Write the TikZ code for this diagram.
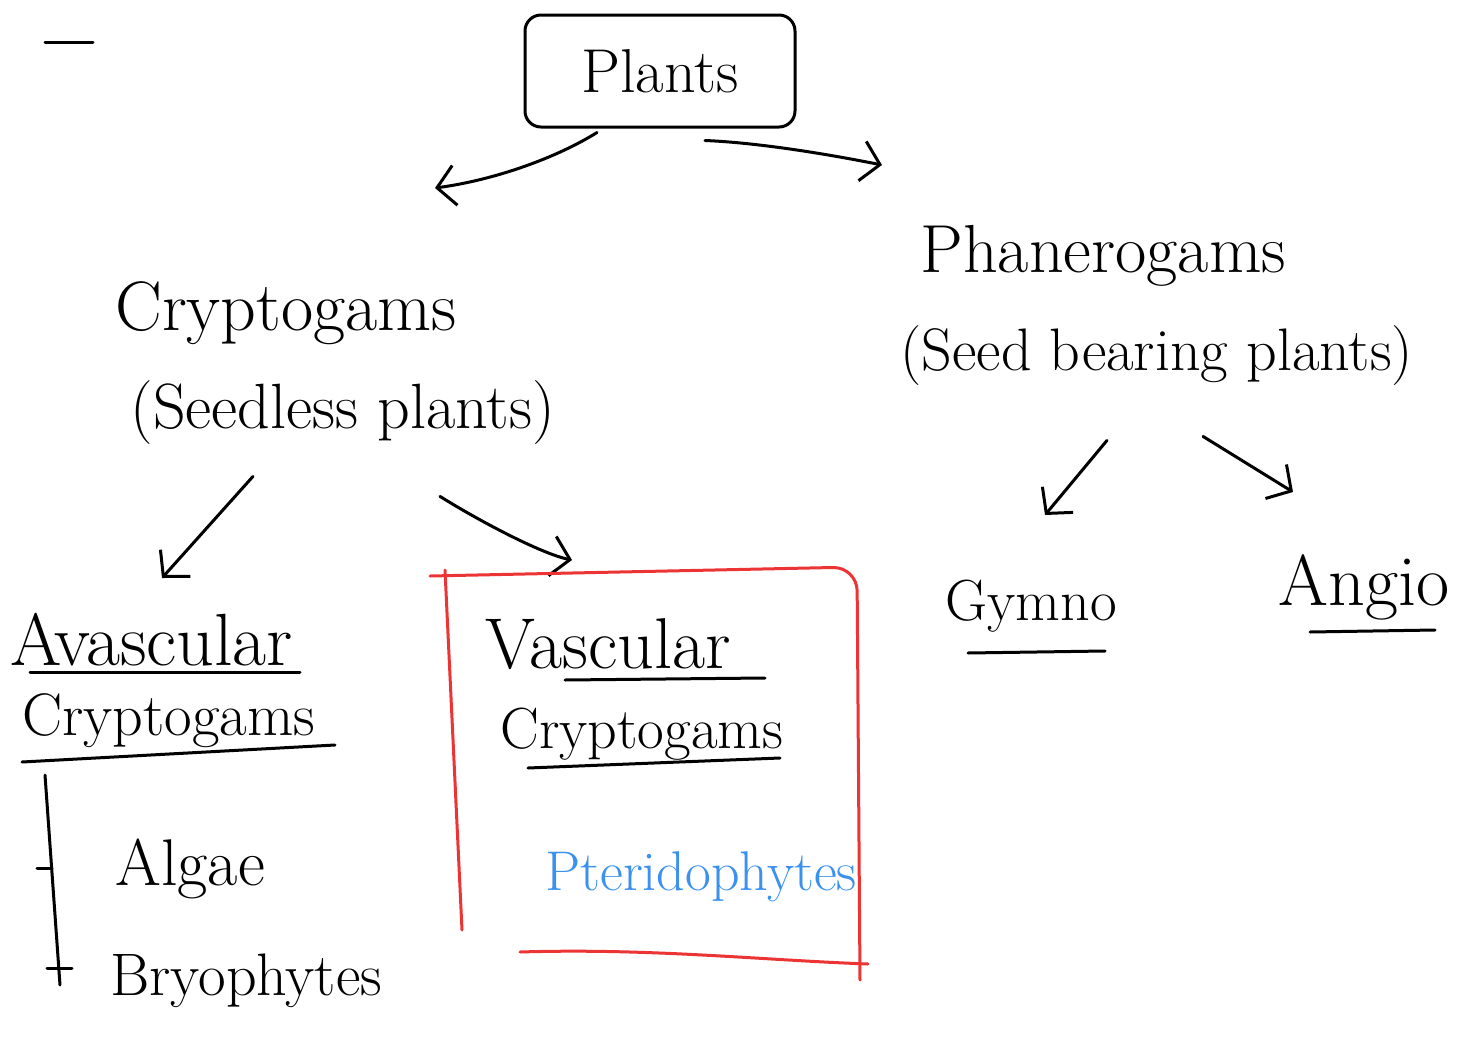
\documentclass[tikz,border=0pt]{standalone}
\usetikzlibrary{arrows.meta,calc}
\definecolor{penred}{RGB}{236,52,52}
\definecolor{penblue}{RGB}{58,145,240}
\newcommand{\labelsz}[1]{\fontsize{#1}{#1}\selectfont}
\tikzset{
  ink/.style={line width=1.5pt, line cap=round, line join=round},
  arr/.style={ink, -{Straight Barb[length=9pt,width=20pt]}},
  word/.style={anchor=base west, inner sep=0pt},
}
\begin{document}
\begin{tikzpicture}[x=0.5pt,y=-0.5pt]
			%%%%% START %%%%%
			\useasboundingbox (0,0) rectangle (1469,1050);
			
			\draw[ink] (45,42) -- (93,42);
			
			\node[draw, ink, rounded corners=8pt, minimum width=135pt, minimum height=56pt, font=\labelsz{31}] (plants) at (660,71) {Plants};
			
			\node[word, font=\labelsz{35}] (crypto) at (115,330) {Cryptogams};
			\node[word, font=\labelsz{32}] (cryptonote) at (130,428) {(Seedless plants)};
			\node[word, font=\labelsz{34}] (phanero) at (920,272) {Phanerogams};
			\node[word, font=\labelsz{30}] (phaneronote) at (900,370) {(Seed bearing plants)};
			
			\node[word, font=\labelsz{37}] (avasc) at (10,665) {Avascular};
			\node[word, font=\labelsz{30}] (avascc) at (22,735) {Cryptogams};
			\node[word, font=\labelsz{33}] (algae) at (115,885) {Algae};
			\node[word, font=\labelsz{30}] (bryo) at (110,995) {Bryophytes};
			
			\node[word, font=\labelsz{36}] (vasc) at (485,668) {Vascular};
			\node[word, font=\labelsz{29}] (vascc) at (500,748) {Cryptogams};
			\node[word, font=\labelsz{28}, text=penblue] (pterido) at (545,890) {Pteridophytes};
			
			\node[word, font=\labelsz{29}] (gymno) at (945,620) {Gymno};
			\node[word, font=\labelsz{36}] (angio) at (1278,605) {Angio};
			
			% arrow ends
			\coordinate (toCrypto) at (435,188);
			\coordinate (toPhanero) at (882,165);
			\coordinate (toAvasc) at (162,578);
			\coordinate (toVasc) at (572,560);
			\coordinate (toGymno) at (1045,515);
			\coordinate (toAngio) at (1293,492);
			
			\draw[arr] ([xshift=-31.5pt,yshift=-2pt]plants.south) .. controls +(-40,25) and +(60,-8) .. (toCrypto);
			\draw[arr] ([xshift=22.5pt,yshift=-6pt]plants.south) .. controls +(50,2) and +(-60,-12) .. (toPhanero);
			\draw[arr] ($(cryptonote.south west)+(123,32)$) -- (toAvasc);
			\draw[arr] ($(cryptonote.south west)+(310,52)$) .. controls +(40,25) and +(-30,-6) .. (toVasc);
			\draw[arr] ($(phaneronote.south west)+(207,55)$) -- (toGymno);
			\draw[arr] ($(phaneronote.south west)+(303,51)$) -- (toAngio);
			
			% underlines
			\draw[ink] (30,672) -- (300,672);
			\draw[ink] (22,762) -- (335,745);
			\draw[ink] (565,680) -- (765,678);
			\draw[ink] (528,768) -- (780,758);
			\draw[ink] (968,653) -- (1105,651);
			\draw[ink] (1310,632) -- (1435,630);
			
			% list bar
			\draw[ink] (45,775) -- (60,985);
			\draw[ink] (37,868) -- (52,868);
			\draw[ink] (47,968) -- (72,968);
			
			% red frame
			\draw[ink, penred, rounded corners=12pt] (430,576) -- (857,567) -- (860,980);
			\draw[ink, penred] (445,570) -- (462,930);
			\draw[ink, penred] (520,952) .. controls (650,948) and (760,960) .. (868,964);
			
			%%%%% END %%%%%
\end{tikzpicture}
\end{document}
